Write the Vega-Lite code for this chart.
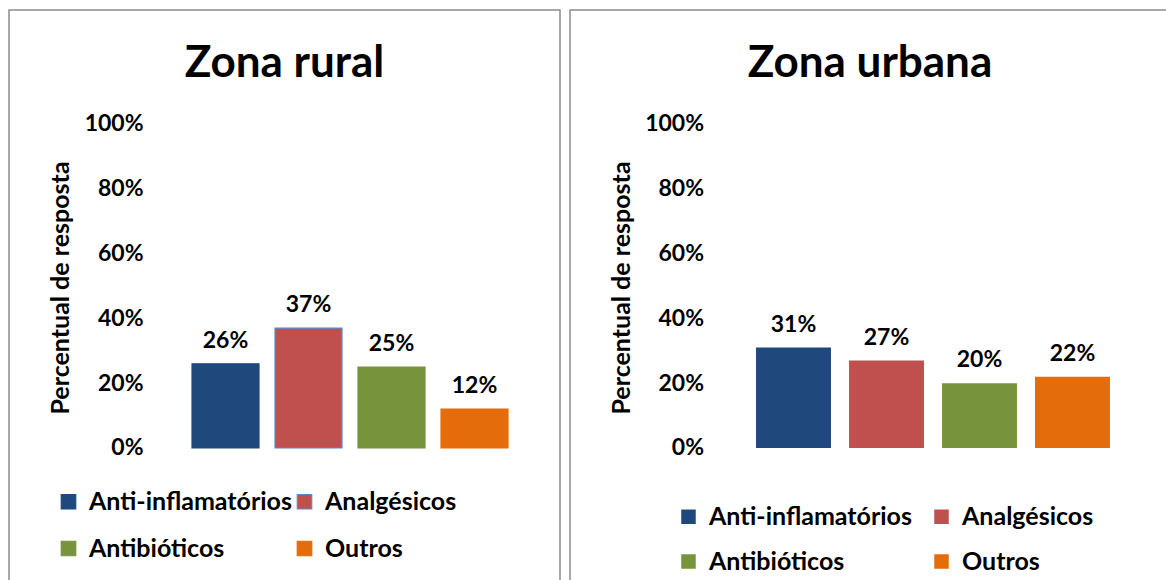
{
  "$schema": "https://vega.github.io/schema/vega-lite/v6.json",
  "padding": {"left": 8, "top": 9, "right": 0, "bottom": 0},
  "background": "white",
  "datasets": {
    "rural": [
      {"cat": "Anti-inflamatórios", "pct": 0.26},
      {"cat": "Analgésicos", "pct": 0.37},
      {"cat": "Antibióticos", "pct": 0.25},
      {"cat": "Outros", "pct": 0.12}
    ],
    "urbana": [
      {"cat": "Anti-inflamatórios", "pct": 0.31},
      {"cat": "Analgésicos", "pct": 0.27},
      {"cat": "Antibióticos", "pct": 0.20},
      {"cat": "Outros", "pct": 0.22}
    ]
  },
  "spacing": 8,
  "hconcat": [
    {
      "width": 551,
      "height": 600,
      "title": {"text": "Zona rural", "offset": -76},
      "data": {"name": "rural"},
      "encoding": {
        "x": {"field": "cat", "type": "nominal", "sort": null, "axis": null,
              "scale": {"range": [175, 507], "paddingInner": 0.193, "paddingOuter": 0.0965}},
        "y": {"field": "pct", "type": "quantitative",
              "scale": {"domain": [-0.5, 1.35185], "nice": false, "zero": false},
              "axis": {"values": [0, 0.2, 0.4, 0.6, 0.8, 1], "format": ".0%", "offset": -134,
                       "title": "Percentual de resposta", "titleX": -82.5, "titleY": 277.5, "titleBaseline": "middle"}}
      },
      "layer": [
        {
          "mark": {"type": "bar", "strokeWidth": 1.2},
          "encoding": {
            "color": {"field": "cat", "type": "nominal", "sort": null,
                      "scale": {"domain": ["Anti-inflamatórios", "Analgésicos", "Antibióticos", "Outros"],
                                "range": ["#1F497D", "#C0504D", "#77933C", "#E46C0A"]},
                      "legend": {"orient": "none", "direction": "horizontal", "legendX": 47, "legendY": 479, "columns": 2, "columnPadding": -3, "rowPadding": 21, "title": null}},
            "stroke": {"field": "cat", "type": "nominal", "sort": null,
                      "scale": {"domain": ["Anti-inflamatórios", "Analgésicos", "Antibióticos", "Outros"],
                                "range": ["#1F497D", "#5A8AC6", "#77933C", "#E46C0A"]},
                      "legend": {"orient": "none", "direction": "horizontal", "legendX": 47, "legendY": 479, "columns": 2, "columnPadding": -3, "rowPadding": 21, "title": null}}
          }
        },
        {
          "mark": {"type": "text", "dy": -16, "baseline": "alphabetic", "font": "Lato", "fontSize": 23, "fontWeight": "bold", "color": "black"},
          "encoding": {"text": {"field": "pct", "type": "quantitative", "format": ".0%"}}
        }
      ]
    },
    {
      "width": 600,
      "height": 600,
      "title": {"text": "Zona urbana", "offset": -76},
      "data": {"name": "urbana"},
      "encoding": {
        "x": {"field": "cat", "type": "nominal", "sort": null, "axis": null,
              "scale": {"range": [177, 549], "paddingInner": 0.194, "paddingOuter": 0.097}},
        "y": {"field": "pct", "type": "quantitative",
              "scale": {"domain": [-0.5, 1.35185], "nice": false, "zero": false},
              "axis": {"values": [0, 0.2, 0.4, 0.6, 0.8, 1], "format": ".0%", "offset": -133.5,
                       "title": "Percentual de resposta", "titleX": -82, "titleY": 277.5, "titleBaseline": "middle"}}
      },
      "layer": [
        {
          "mark": {"type": "bar"},
          "encoding": {
            "color": {"field": "cat", "type": "nominal", "sort": null,
                      "scale": {"domain": ["Anti-inflamatórios", "Analgésicos", "Antibióticos", "Outros"],
                                "range": ["#1F497D", "#C0504D", "#77933C", "#E46C0A"]},
                      "legend": {"orient": "none", "direction": "horizontal", "legendX": 106, "legendY": 494, "columns": 2, "columnPadding": 17, "rowPadding": 19, "title": null}}
          }
        },
        {
          "mark": {"type": "text", "dy": -16, "baseline": "alphabetic", "font": "Lato", "fontSize": 23, "fontWeight": "bold", "color": "black"},
          "encoding": {"text": {"field": "pct", "type": "quantitative", "format": ".0%"}}
        }
      ]
    }
  ],
  "resolve": {
    "scale": {"x": "independent", "y": "independent", "color": "independent", "stroke": "independent"},
    "legend": {"color": "independent", "stroke": "independent"},
    "axis": {"y": "independent"}
  },
  "config": {
    "view": {"stroke": "#8C8C8C", "strokeWidth": 1.5},
    "font": "Lato",
    "title": {"font": "Lato", "fontSize": 44, "fontWeight": "bold", "color": "black", "anchor": "middle"},
    "axis": {"grid": false, "domain": false, "ticks": false, "tickSize": 0, "labelPadding": 0,
             "labelFont": "Lato", "labelFontSize": 23, "labelFontWeight": "bold", "labelColor": "black",
             "titleFont": "Lato", "titleFontSize": 25, "titleFontWeight": "bold", "titleColor": "black"},
    "legend": {"labelFont": "Lato", "labelFontSize": 25, "labelFontWeight": "bold", "labelColor": "black",
               "labelLimit": 400, "labelOffset": 8, "symbolType": "square", "symbolSize": 210, "padding": 0,
               "symbolStrokeWidth": 1.2}
  }
}
